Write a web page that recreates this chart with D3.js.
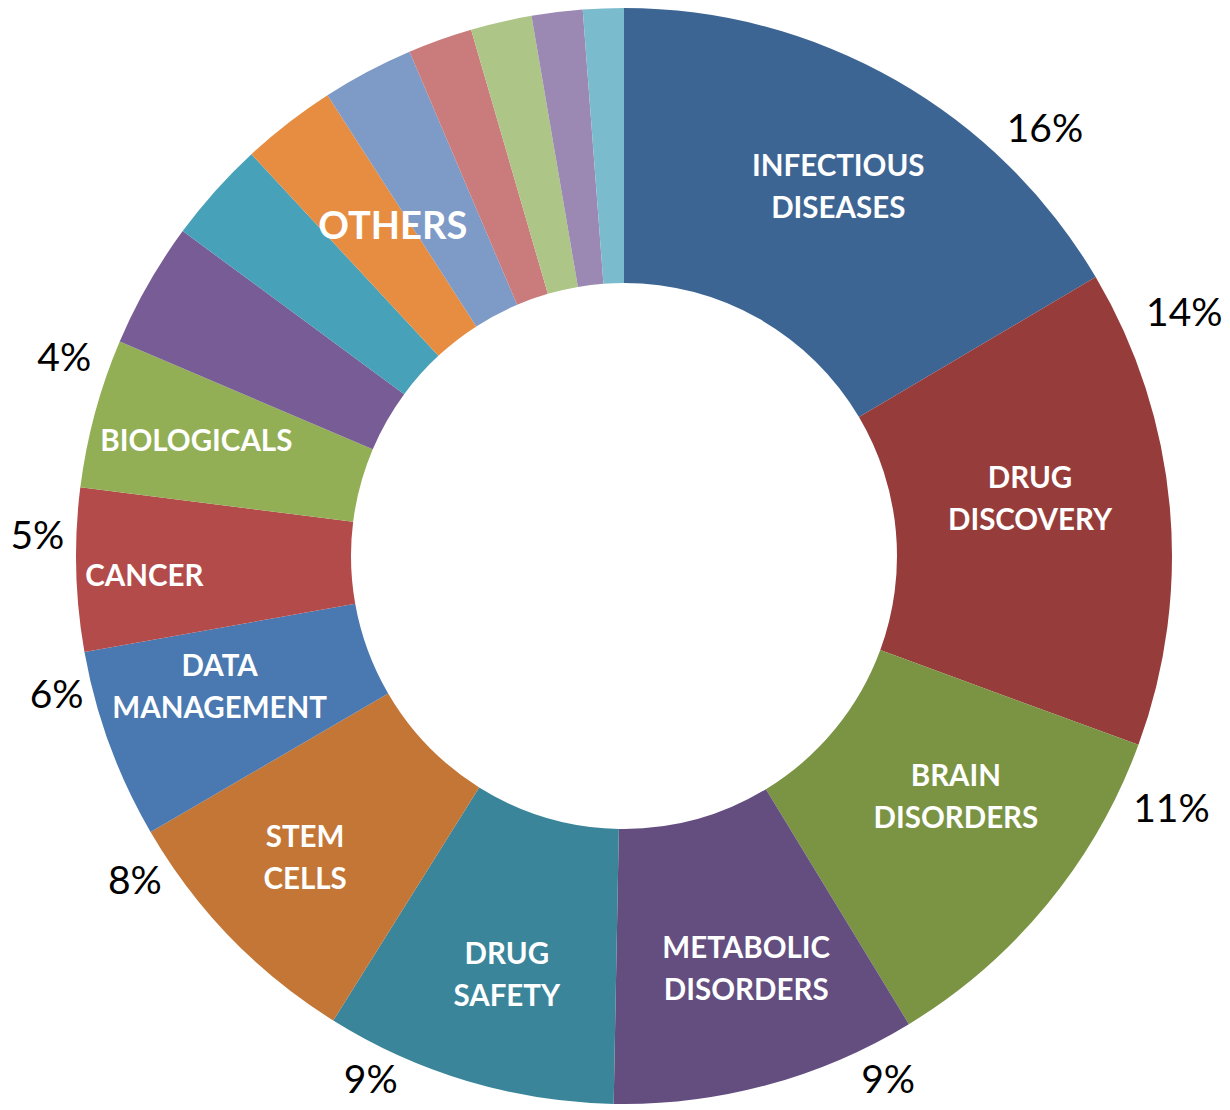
<!DOCTYPE html>
<html>
<head>
<meta charset="utf-8">
<script src="https://cdn.jsdelivr.net/npm/d3@7"></script>
<style>
  body { margin: 0; background: #ffffff; }
  #chart { width: 1230px; height: 1110px; }
</style>
</head>
<body>
<div id="chart"></div>
<script>
// slice categories, clockwise from 12 o'clock
const categories = [
    'INFECTIOUS DISEASES', 'DRUG DISCOVERY', 'BRAIN DISORDERS', 'METABOLIC DISORDERS',
    'DRUG SAFETY', 'STEM CELLS', 'DATA MANAGEMENT', 'CANCER', 'BIOLOGICALS',
    'OTHER 1', 'OTHER 2', 'OTHER 3', 'OTHER 4', 'OTHER 5', 'OTHER 6', 'OTHER 7', 'OTHER 8'
];
// share of total (percent)
const shares = [16.5, 14.1, 10.7, 9.0, 8.6, 7.7, 5.6, 4.8, 4.4, 3.7, 3.0, 2.8, 2.7, 1.9, 1.8, 1.5, 1.2];
// labels printed inside the slices (line broken)
const sliceLabels = [
    ['INFECTIOUS', 'DISEASES'], ['DRUG', 'DISCOVERY'], ['BRAIN', 'DISORDERS'], ['METABOLIC', 'DISORDERS'],
    ['DRUG', 'SAFETY'], ['STEM', 'CELLS'], ['DATA', 'MANAGEMENT'], ['CANCER'], ['BIOLOGICALS'],
    [], [], [], [], [], [], [], []
];
// percentage labels outside the ring
const pctLabels = ['16%', '14%', '11%', '9%', '9%', '8%', '6%', '5%', '4%', '', '', '', '', '', '', '', ''];
const othersLabel = 'OTHERS';

const palette = [
    '#3d6594', '#963c3b', '#7a9444', '#634e7f', '#3a8599', '#c37636', '#4a78b0', '#b34b4a', '#93af56',
    '#775c96', '#47a1b8', '#e78d42', '#7e9ac7', '#c97c7b', '#aec588', '#9b89b3', '#7bbbce'
];

class DonutChart {
    constructor(_config) {
        this.config = {
            parentElement: _config.parentElement,
            width: 1230,
            height: 1110,
            cx: 624,
            cy: 556,
            outerRadius: 548,
            innerRadius: 273,
            // where along each slice the % label sits (0 = start, 1 = end) and how far out
            pctFrac: [0.75, 0.14, 0.12, 0.14, 0.8, 0.88, 0.82, 0.7, 0.78],
            pctRadius: [600, 611, 603, 586, 581, 587, 584, 587, 594],
            // same for the labels inside the slices
            labelFrac: [0.507, 0.445, 0.41, 0.457, 0.47, 0.525, 0.61, 0.45, 0.5],
            labelRadius: [427, 410, 410, 430, 435, 439, 425, 480, 443],
            othersFrac: 0.477,
            othersRadius: 403
        };
        this.initVis();
    }

    initVis() {
        let vis = this;
        const c = vis.config;

        vis.svg = d3.select(c.parentElement).append('svg')
            .attr('width', c.width)
            .attr('height', c.height);

        vis.chart = vis.svg.append('g')
            .attr('transform', `translate(${c.cx},${c.cy})`);

        vis.pie = d3.pie().sort(null).value(d => d.value);
        vis.arc = d3.arc().innerRadius(c.innerRadius).outerRadius(c.outerRadius);

        vis.data = categories.map((name, i) => ({
            name: name,
            value: shares[i],
            lines: sliceLabels[i],
            pct: pctLabels[i],
            color: palette[i]
        }));

        vis.updateVis();
    }

    updateVis() {
        let vis = this;
        const c = vis.config;
        const arcs = vis.pie(vis.data);

        vis.chart.selectAll('.slice')
            .data(arcs)
            .join('path')
            .attr('class', 'slice')
            .attr('d', vis.arc)
            .attr('fill', d => d.data.color);

        const polar = (angle, r) => [Math.sin(angle) * r, -Math.cos(angle) * r];
        const along = (d, f) => d.startAngle + f * (d.endAngle - d.startAngle);

        // labels inside slices
        const labelled = arcs.filter(d => d.data.lines.length > 0);
        const labels = vis.chart.selectAll('.slice-label')
            .data(labelled)
            .join('text')
            .attr('class', 'slice-label')
            .attr('text-anchor', 'middle')
            .style('font-family', 'Lato, "Open Sans", sans-serif')
            .style('font-weight', '700')
            .style('font-size', '29.5px')
            .style('fill', '#ffffff')
            .attr('transform', d => {
                const [x, y] = polar(along(d, c.labelFrac[d.index]), c.labelRadius[d.index]);
                return `translate(${x},${y})`;
            });

        labels.selectAll('tspan')
            .data(d => d.data.lines.map((t, i, arr) => ({text: t, i: i, n: arr.length})))
            .join('tspan')
            .attr('x', 0)
            .attr('y', d => (d.i - (d.n - 1) / 2) * 42)
            .attr('dy', '0.35em')
            .text(d => d.text);

        // percentage labels outside
        vis.chart.selectAll('.pct-label')
            .data(arcs.filter(d => d.data.pct))
            .join('text')
            .attr('class', 'pct-label')
            .attr('text-anchor', 'middle')
            .attr('dy', '0.35em')
            .style('font-family', 'Lato, "Open Sans", sans-serif')
            .style('font-size', '39px')
            .style('fill', '#000000')
            .attr('transform', d => {
                const [x, y] = polar(along(d, c.pctFrac[d.index]), c.pctRadius[d.index]);
                return `translate(${x},${y})`;
            })
            .text(d => d.data.pct);

        // OTHERS label over the small slices
        const others = arcs.slice(9);
        const span = {startAngle: others[0].startAngle, endAngle: others[others.length - 1].endAngle};
        const [ox, oy] = polar(along(span, c.othersFrac), c.othersRadius);
        vis.chart.append('text')
            .attr('class', 'others-label')
            .attr('text-anchor', 'middle')
            .attr('dy', '0.35em')
            .attr('x', ox)
            .attr('y', oy)
            .style('font-family', 'Lato, "Open Sans", sans-serif')
            .style('font-weight', '700')
            .style('font-size', '38px')
            .style('fill', '#ffffff')
            .text(othersLabel);
    }
}

new DonutChart({parentElement: '#chart'});
</script>
</body>
</html>
